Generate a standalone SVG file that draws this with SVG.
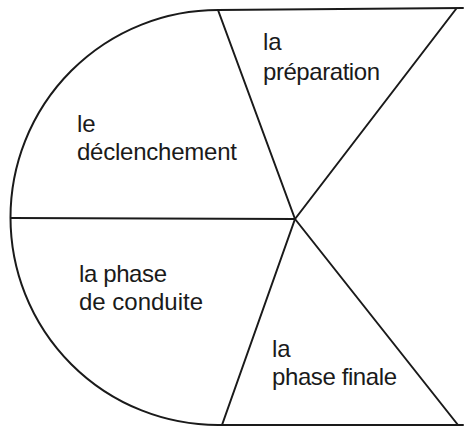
<svg xmlns="http://www.w3.org/2000/svg" width="466" height="428" viewBox="0 0 466 428">
<style>
.ln{fill:none;stroke:#1a1a1a;stroke-width:2;stroke-linecap:round;stroke-linejoin:round}
.t{font-family:"Liberation Sans",Arial,sans-serif;font-size:24px;fill:#1a1a1a}
</style>
<rect width="466" height="428" fill="#fff"/>
<g id="connectors">
<path class="ln" d="M218,10 A207.5,207.5 0 0 0 218,425"/>
<path class="ln" d="M218,10 L463,8"/>
<path class="ln" d="M218,425 L463,425"/>
<path class="ln" d="M11,218 L295,219"/>
<path class="ln" d="M218,10 L295,219"/>
<path class="ln" d="M456,9 L295,219"/>
<path class="ln" d="M458,425 L295,219"/>
<path class="ln" d="M222,425 L295,219"/>
</g>
<g id="preparation"><text class="t" x="263" y="50">la</text><text class="t" x="263" y="80" textLength="117">préparation</text></g>
<g id="declenchement"><text class="t" x="77" y="132">le</text><text class="t" x="77" y="160" textLength="160">déclenchement</text></g>
<g id="conduite"><text class="t" x="79" y="282" textLength="88">la phase</text><text class="t" x="79" y="310" textLength="124">de conduite</text></g>
<g id="finale"><text class="t" x="272" y="357">la</text><text class="t" x="272" y="385" textLength="125">phase finale</text></g>
</svg>
